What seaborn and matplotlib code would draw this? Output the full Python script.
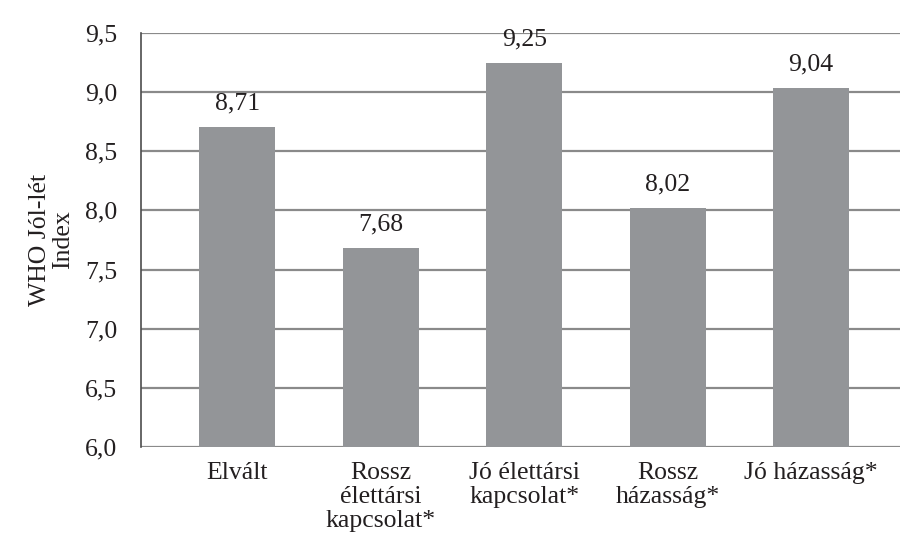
import matplotlib
matplotlib.use("Agg")
import matplotlib.pyplot as plt
import seaborn as sns
import pandas as pd

categories = ["Elvált", "Rossz\nélettársi\nkapcsolat*", "Jó élettársi\nkapcsolat*",
              "Rossz\nházasság*", "Jó házasság*"]
values = [8.71, 7.68, 9.25, 8.02, 9.04]
value_labels = ["8,71", "7,68", "9,25", "8,02", "9,04"]
yticks = [6.0, 6.5, 7.0, 7.5, 8.0, 8.5, 9.0, 9.5]
ytick_labels = ["6,0", "6,5", "7,0", "7,5", "8,0", "8,5", "9,0", "9,5"]

sns.set_style("white")
plt.rcParams["font.family"] = ["Liberation Serif", "DejaVu Serif"]

bar_color = "#939598"
grid_color = "#8a8a8a"
text_color = "#231f20"
fs = 18.5

df = pd.DataFrame({"kat": categories, "ertek": values})

fig = plt.figure(figsize=(9.01, 5.43), dpi=100)
ax = fig.add_axes([0.1565, 0.177, 0.8425, 0.762])

sns.barplot(data=df, x="kat", y="ertek", color=bar_color, saturation=1,
            width=0.53, linewidth=0, edgecolor="none", ax=ax, zorder=3)

ax.set_ylim(6.0, 9.5)
ax.set_xlim(-0.67, 4.62)
ax.set_yticks(yticks)
ax.set_yticklabels(ytick_labels)

ax.yaxis.grid(True, color=grid_color, linewidth=1.6, zorder=0)
ax.set_axisbelow(True)

for side in ["top", "right", "bottom"]:
    ax.spines[side].set_visible(False)
ax.spines["left"].set_color("#4d4d4d")
ax.spines["left"].set_linewidth(1.2)
ax.spines["left"].set_zorder(4)

ax.tick_params(axis="y", length=13, width=1.6, color=grid_color, pad=4,
               labelsize=fs, labelcolor=text_color)
ax.tick_params(axis="x", length=0, pad=11, labelsize=fs, labelcolor=text_color)
for t in ax.get_xticklabels():
    t.set_linespacing(1.12)

ax.set_xlabel("")
ax.set_ylabel("WHO Jól-lét\nIndex", fontsize=fs, color=text_color, labelpad=8,
              linespacing=1.05)

for patch, lab in zip(ax.patches, value_labels):
    ax.annotate(lab, (patch.get_x() + patch.get_width() / 2, patch.get_height()),
                xytext=(0, 9), textcoords="offset points", ha="center", va="bottom",
                fontsize=fs, color=text_color, annotation_clip=False)

fig.savefig("out.png", dpi=100)
